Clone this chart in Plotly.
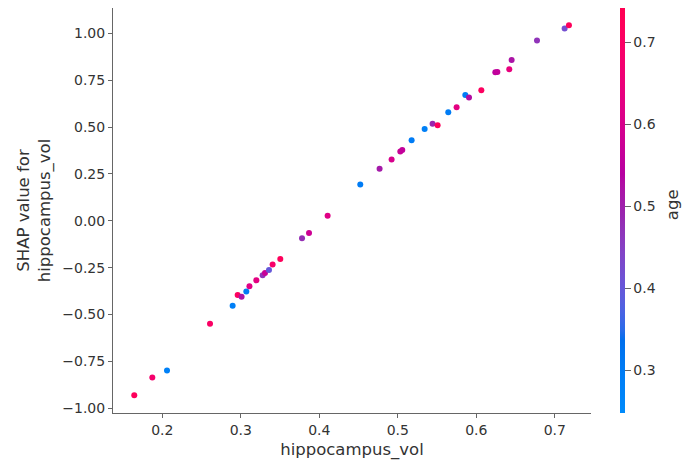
import numpy as np
import plotly.graph_objects as go

# Data
hippocampus_vol = [0.1643, 0.1873, 0.2060, 0.2608, 0.2896, 0.2960, 0.3010, 0.3070,
                   0.3110, 0.3198, 0.3278, 0.3308, 0.3359, 0.3405, 0.3503, 0.3780,
                   0.3869, 0.4106, 0.4522, 0.4768, 0.4921, 0.5032, 0.5057, 0.5176,
                   0.5342, 0.5443, 0.5507, 0.5643, 0.5749, 0.5860, 0.5907, 0.6064,
                   0.6242, 0.6268, 0.6420, 0.6450, 0.6773, 0.7125, 0.7180]
shap_values = [-0.931, -0.836, -0.799, -0.550, -0.453, -0.396, -0.405, -0.378,
               -0.350, -0.318, -0.291, -0.279, -0.263, -0.233, -0.204, -0.094,
               -0.066, 0.027, 0.193, 0.277, 0.327, 0.369, 0.377, 0.430,
               0.490, 0.517, 0.510, 0.579, 0.606, 0.671, 0.657, 0.696,
               0.792, 0.794, 0.808, 0.858, 0.961, 1.025, 1.043]
age = [0.72, 0.68, 0.28, 0.70, 0.29, 0.71, 0.52, 0.30,
       0.62, 0.63, 0.47, 0.57, 0.40, 0.69, 0.72, 0.48,
       0.58, 0.62, 0.30, 0.51, 0.60, 0.57, 0.56, 0.30,
       0.29, 0.49, 0.72, 0.30, 0.63, 0.30, 0.53, 0.71,
       0.55, 0.56, 0.64, 0.52, 0.47, 0.42, 0.72]
x_ticks = [0.2, 0.3, 0.4, 0.5, 0.6, 0.7]
y_ticks = [-1.0, -0.75, -0.5, -0.25, 0.0, 0.25, 0.5, 0.75, 1.0]
c_ticks = [0.3, 0.4, 0.5, 0.6, 0.7]


# SHAP red_blue colormap (LCH interpolation)
def lch2rgb(l, c, h):
    a = c * np.cos(h)
    b = c * np.sin(h)
    fy = (l + 16) / 116
    fx = fy + a / 500
    fz = fy - b / 200
    def finv(t):
        return t ** 3 if t > 6 / 29 else 3 * (6 / 29) ** 2 * (t - 4 / 29)
    X, Y, Z = 0.95047 * finv(fx), 1.0 * finv(fy), 1.08883 * finv(fz)
    M = np.array([[3.2406, -1.5372, -0.4986],
                  [-0.9689, 1.8758, 0.0415],
                  [0.0557, -0.2040, 1.0570]])
    rgb = M @ np.array([X, Y, Z])
    out = []
    for v in rgb:
        v = 1.055 * v ** (1 / 2.4) - 0.055 if v > 0.0031308 else 12.92 * v
        out.append(int(round(min(max(v, 0), 1) * 255)))
    return out


blue_lch = [54., 70., 4.6588]
red_lch = [54., 90., 0.35470565 + 2 * np.pi]
l_mid = 40.
n = 40
l_vals = list(np.linspace(blue_lch[0], l_mid, n // 2)) + list(np.linspace(l_mid, red_lch[0], n // 2))
c_vals = np.linspace(blue_lch[1], red_lch[1], n)
h_vals = np.linspace(blue_lch[2], red_lch[2], n)
colorscale = []
for pos, l, c, h in zip(np.linspace(0, 1, n), l_vals, c_vals, h_vals):
    r, g, b = lch2rgb(l, c, h)
    colorscale.append([float(pos), f"rgb({r},{g},{b})"])

font_family = "DejaVu Sans"
text_color = "#333333"
axis_color = "#666666"

fig = go.Figure()
fig.add_trace(go.Scatter(
    x=hippocampus_vol, y=shap_values, mode="markers",
    marker=dict(size=6, color=age, colorscale=colorscale, cmin=0.248, cmax=0.742,
                line=dict(width=0),
                colorbar=dict(
                    thickness=5, len=1.0, lenmode="fraction", y=0.5, yanchor="middle",
                    x=1.0613, xanchor="left", outlinewidth=0, xpad=0, ypad=0,
                    tickvals=c_ticks, ticktext=[f"{v:.1f}" for v in c_ticks],
                    ticks="outside", ticklen=6, tickcolor=axis_color,
                    tickfont=dict(size=14, color=text_color, family=font_family),
                )),
    showlegend=False,
))

# Colorbar label
fig.add_annotation(text="age", xref="paper", yref="paper", x=1.1722, y=0.514,
                   xanchor="center", yanchor="middle", showarrow=False, textangle=-90,
                   font=dict(size=16.5, color=text_color, family=font_family))

# The page body adds an 8px offset, so margins are compensated accordingly.
fig.update_layout(
    width=695, height=464,
    margin=dict(l=104.7, r=112.3, t=0, b=58.5, autoexpand=False),
    paper_bgcolor="white", plot_bgcolor="white",
    font=dict(family=font_family, color=text_color),
    xaxis=dict(
        range=[0.1372, 0.7461], tickvals=x_ticks, ticktext=[f"{v:.1f}" for v in x_ticks],
        showgrid=False, zeroline=False, showline=True, linecolor=axis_color, linewidth=1,
        ticks="outside", ticklen=4, tickcolor=axis_color, automargin=False,
        tickfont=dict(size=14, color=text_color),
        title=dict(text="hippocampus_vol", font=dict(size=16.5, color=text_color), standoff=6),
    ),
    yaxis=dict(
        range=[-1.0256, 1.1348], tickvals=y_ticks,
        ticktext=[f"{v:.2f}".replace("-", "\u2212") for v in y_ticks],
        showgrid=False, zeroline=False, showline=True, linecolor=axis_color, linewidth=1,
        ticks="outside", ticklen=4, tickcolor=axis_color, automargin=False,
        tickfont=dict(size=14, color=text_color),
        title=dict(text="SHAP value for<br>hippocampus_vol", font=dict(size=16.5, color=text_color), standoff=7),
    ),
)

fig.write_html("out.html")
